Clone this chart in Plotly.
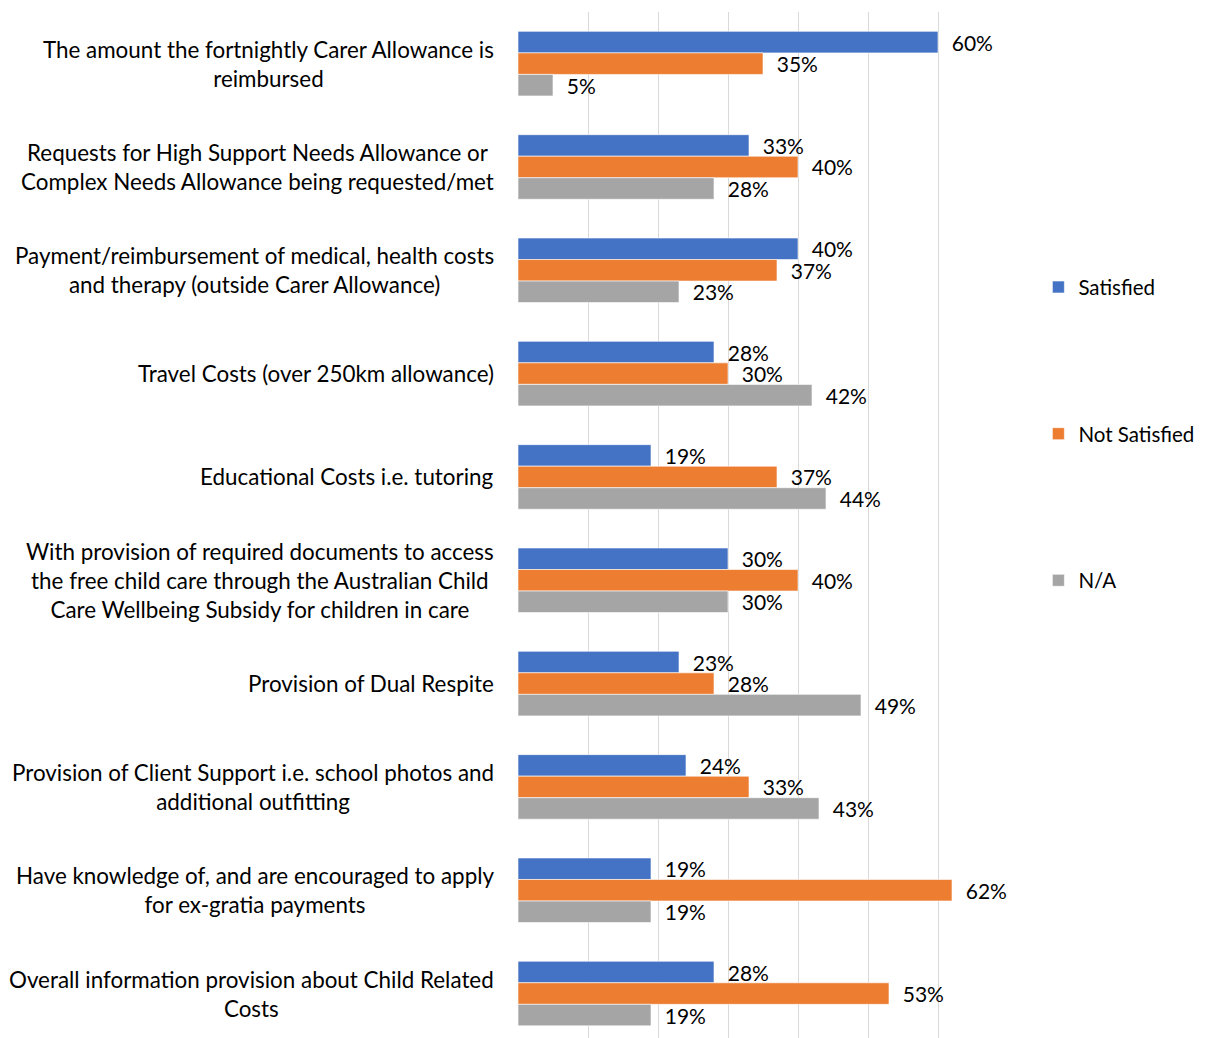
import plotly.graph_objects as go

categories = [
    "The amount the fortnightly Carer Allowance is<br>reimbursed",
    "Requests for High Support Needs Allowance or<br>Complex Needs Allowance being requested/met",
    "Payment/reimbursement of medical, health costs<br>and therapy (outside Carer Allowance)",
    "Travel Costs (over 250km allowance)",
    "Educational Costs i.e. tutoring",
    "With provision of required documents to access<br>the free child care through the Australian Child<br>Care Wellbeing Subsidy for children in care",
    "Provision of Dual Respite",
    "Provision of Client Support i.e. school photos and<br>additional outfitting",
    "Have knowledge of, and are encouraged to apply<br>for ex-gratia payments",
    "Overall information provision about Child Related<br>Costs",
]
series_names = ["Satisfied", "Not Satisfied", "N/A"]
satisfied = [60, 33, 40, 28, 19, 30, 23, 24, 19, 28]
not_satisfied = [35, 40, 37, 30, 37, 40, 28, 33, 62, 53]
na = [5, 28, 23, 42, 44, 30, 49, 43, 19, 19]
colors = ["#4472C4", "#ED7D31", "#A5A5A5"]

FONT = "Lato"
idx = list(range(len(categories)))

fig = go.Figure()
for name, vals, col in zip(series_names, [satisfied, not_satisfied, na], colors):
    fig.add_trace(go.Bar(
        y=idx, x=vals, name=name, orientation="h",
        marker=dict(color=col, line=dict(color="rgba(255,255,255,0.6)", width=1)),
        text=[f"\u00a0\u00a0{v}%" for v in vals],
        textposition="outside", cliponaxis=False, constraintext="none",
        textfont=dict(family=FONT, size=21, color="#000000"),
        legendgroup=name,
    ))

for i, c in enumerate(categories):
    fig.add_annotation(
        x=0, xref="paper", y=i, yref="y", text=c, showarrow=False,
        xanchor="right", yanchor="middle", align="center", xshift=-22,
        font=dict(family=FONT, size=22.4, color="#000000"),
    )

fig.update_layout(
    width=1197, height=1030,
    margin=dict(l=510, r=197, t=4, b=0, autoexpand=False),
    barmode="group", bargap=0.375, bargroupgap=0,
    plot_bgcolor="white", paper_bgcolor="white",
    showlegend=True,
    legend=dict(
        x=1.062, xanchor="left", y=0.589, yanchor="middle",
        font=dict(family=FONT, size=20.5, color="#000000"),
        tracegroupgap=117, traceorder="grouped", itemwidth=30,
        itemclick=False, bgcolor="rgba(0,0,0,0)",
    ),
    xaxis=dict(range=[0, 70], dtick=10, showgrid=True, gridcolor="#D9D9D9",
               gridwidth=1, showticklabels=False, zeroline=False, showline=False,
               automargin=False),
    yaxis=dict(range=[9.43, -0.5], showticklabels=False, showgrid=False,
               zeroline=False, showline=False, tickvals=idx, automargin=False),
)
fig.write_html("out.html")
